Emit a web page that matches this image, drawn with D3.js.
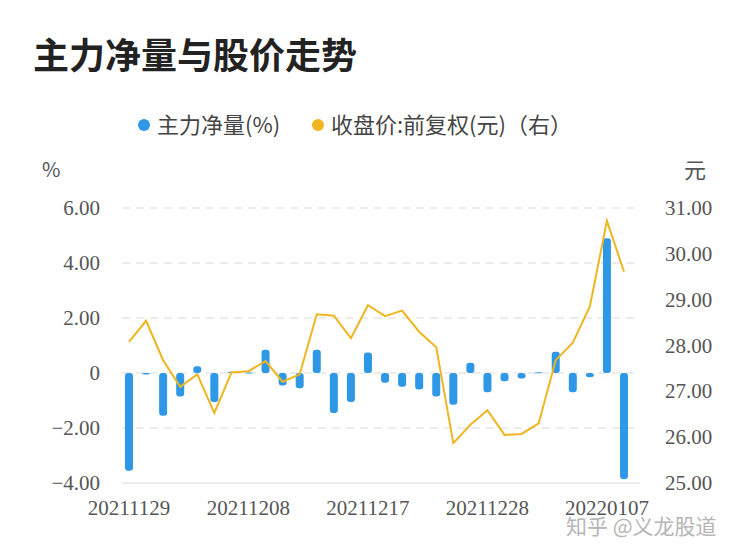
<!DOCTYPE html>
<html><head><meta charset="utf-8">
<script src="https://cdn.jsdelivr.net/npm/d3@7"></script>
<style>body{margin:0;background:#fff}</style>
</head><body>
<script>
var dates = ['20211129','20211130','20211201','20211202','20211203','20211206','20211207','20211208','20211209','20211210',
  '20211213','20211214','20211215','20211216','20211217','20211220','20211221','20211222','20211223','20211224',
  '20211227','20211228','20211229','20211230','20211231','20220104','20220105','20220106','20220107','20220110'];
var flow = [-3.55,-0.05,-1.55,-0.85,0.25,-1.05,0.05,0.02,0.85,-0.45,
  -0.55,0.85,-1.45,-1.05,0.75,-0.35,-0.5,-0.6,-0.85,-1.15,
  0.37,-0.7,-0.3,-0.2,0.03,0.77,-0.7,-0.15,4.9,-3.85];
var price = [28.08,28.54,27.68,27.10,27.37,26.53,27.41,27.44,27.66,27.21,
  27.37,28.68,28.65,28.16,28.88,28.64,28.76,28.30,27.96,25.87,
  26.27,26.59,26.05,26.07,26.30,27.68,28.06,28.85,30.72,29.61];
var leftTicks = [-4,-2,0,2,4,6];
var rightTicks = [25,26,27,28,29,30,31];
var xLabels = ['20211129','20211208','20211217','20211228','20220107'];

var W = 750, H = 558;
var svg = d3.select('body').append('svg').attr('width', W).attr('height', H);
var serif = '"Liberation Serif","DejaVu Serif",serif';
var sans = '"Noto Sans CJK SC","Noto Sans",sans-serif';

svg.append('text').attr('x', 33).attr('y', 69).attr('font-family', sans)
  .attr('font-size', 36).attr('font-weight', 'bold').attr('fill', '#222').text('主力净量与股价走势');

var x = d3.scalePoint().domain(dates).range([129, 624]);
var yl = d3.scaleLinear().domain([-4, 6]).range([483, 208]);
var yr = d3.scaleLinear().domain([25, 31]).range([483, 208]);

// grid
svg.selectAll('.grid').data(leftTicks).enter().append('line')
  .attr('x1', 122).attr('x2', 640)
  .attr('y1', function(d) { return yl(d); }).attr('y2', function(d) { return yl(d); })
  .attr('stroke', '#e6e6e6').attr('stroke-width', 1.5)
  .attr('stroke-dasharray', function(d) { return d === -4 ? null : '8,6'; });

svg.selectAll('.lt').data(leftTicks).enter().append('text')
  .attr('x', 100).attr('y', function(d) { return yl(d) + 7; })
  .attr('text-anchor', 'end').attr('font-family', serif).attr('font-size', 21).attr('fill', '#555')
  .text(function(d) { return d === 0 ? '0' : d3.format('.2f')(d); });

svg.selectAll('.rt').data(rightTicks).enter().append('text')
  .attr('x', 665).attr('y', function(d) { return yr(d) + 7; })
  .attr('font-family', serif).attr('font-size', 21).attr('fill', '#555')
  .text(function(d) { return d3.format('.2f')(d); });

svg.selectAll('.xl').data(xLabels).enter().append('text')
  .attr('x', function(d) { return x(d); }).attr('y', 515)
  .attr('text-anchor', 'middle').attr('font-family', serif).attr('font-size', 21).attr('fill', '#555')
  .text(function(d) { return d; });

svg.append('text').attr('x', 42).attr('y', 177).attr('font-family', sans).attr('font-size', 20).attr('fill', '#555').text('%');
svg.append('text').attr('x', 684).attr('y', 178).attr('font-family', sans).attr('font-size', 22).attr('fill', '#555').text('元');

// bars
var bw = 8;
svg.selectAll('.bar').data(flow).enter().append('rect')
  .attr('x', function(d, i) { return x(dates[i]) - bw / 2; })
  .attr('y', function(d) { return Math.min(yl(d), yl(0)); })
  .attr('width', bw)
  .attr('height', function(d) { return Math.max(Math.abs(yl(d) - yl(0)), 1); })
  .attr('rx', 3)
  .attr('fill', '#2f98e6');

// line
var line = d3.line().x(function(d, i) { return x(dates[i]); }).y(function(d) { return yr(d); });
svg.append('path').datum(price).attr('d', line)
  .attr('fill', 'none').attr('stroke', '#efb622').attr('stroke-width', 2);

// legend
var lg = svg.append('g').attr('font-family', sans).attr('font-size', 22).attr('fill', '#444');
lg.append('circle').attr('cx', 144).attr('cy', 125).attr('r', 6).attr('fill', '#2f98e6');
lg.append('text').attr('x', 157).attr('y', 133).text('主力净量(%)');
lg.append('circle').attr('cx', 318).attr('cy', 125).attr('r', 6).attr('fill', '#efb622');
lg.append('text').attr('x', 331).attr('y', 133).text('收盘价:前复权(元)（右）');

svg.append('text').attr('x', 566).attr('y', 534).attr('font-family', sans).attr('font-size', 21)
  .attr('fill', '#aaa').attr('opacity', 0.85).text('知乎 @义龙股道');
</script>
</body></html>
